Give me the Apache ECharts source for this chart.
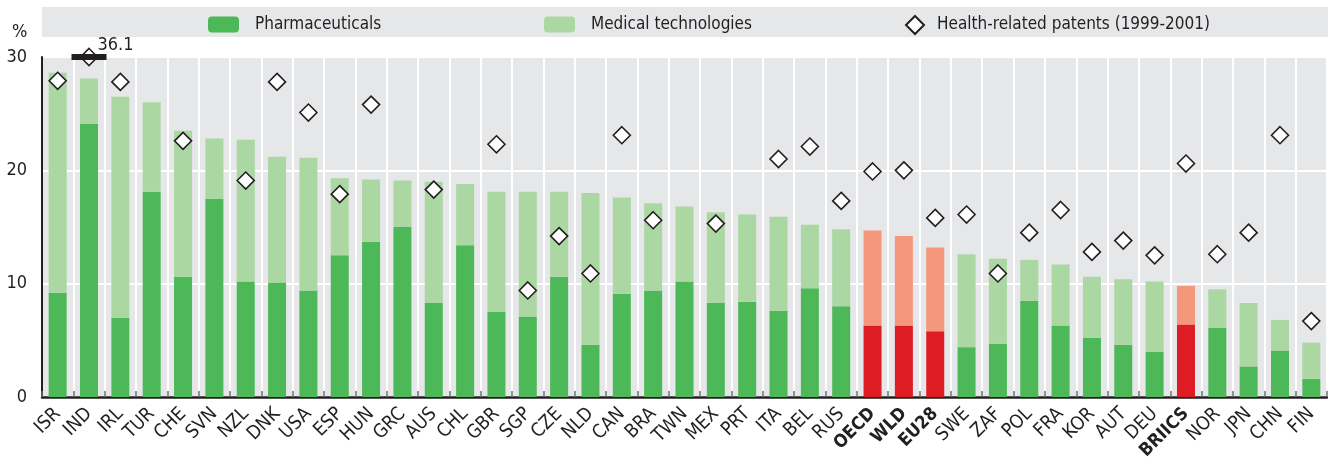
<!DOCTYPE html>
<html>
<head>
<meta charset="utf-8">
<script src="https://cdn.jsdelivr.net/npm/echarts@6/dist/echarts.min.js"></script>
<style>
html,body{margin:0;padding:0;background:#fff;}
#chart{width:1328px;height:457px;}
</style>
</head>
<body>
<div id="chart"></div>
<script>
const categories = ['ISR','IND','IRL','TUR','CHE','SVN','NZL','DNK','USA','ESP','HUN','GRC','AUS','CHL','GBR','SGP','CZE','NLD','CAN','BRA','TWN','MEX','PRT','ITA','BEL','RUS','OECD','WLD','EU28','SWE','ZAF','POL','FRA','KOR','AUT','DEU','BRIICS','NOR','JPN','CHN','FIN'];
const aggregates = ['OECD','WLD','EU28','BRIICS'];
const pharmaceuticals = [9.2,24.1,7.0,18.1,10.6,17.5,10.2,10.1,9.4,12.5,13.7,15.0,8.3,13.4,7.5,7.1,10.6,4.6,9.1,9.4,10.2,8.3,8.4,7.6,9.6,8.0,6.3,6.3,5.8,4.4,4.7,8.5,6.3,5.2,4.6,4.0,6.4,6.1,2.7,4.1,1.6];
const medicalTech = [19.4,4.0,19.5,7.9,12.9,5.3,12.5,11.1,11.7,6.8,5.5,4.1,10.7,5.4,10.6,11.0,7.5,13.4,8.5,7.7,6.6,8.0,7.7,8.3,5.6,6.8,8.4,7.9,7.4,8.2,7.5,3.6,5.4,5.4,5.8,6.2,3.4,3.4,5.6,2.7,3.2];
const patents = [27.9,36.1,27.8,null,22.6,null,19.1,27.8,25.1,17.9,25.8,null,18.3,null,22.3,9.4,14.2,10.9,23.1,15.6,null,15.3,null,21.0,22.1,17.3,19.9,20.0,15.8,16.1,10.9,14.5,16.5,12.8,13.8,12.5,20.6,12.6,14.5,23.1,6.7];
const yTicks = [0, 10, 20, 30];

const yMin = yTicks[0], yMax = yTicks[yTicks.length - 1], yStep = yTicks[1] - yTicks[0];
const C = {
  green: '#4cb857', lightGreen: '#abd7a3', red: '#de1c24', salmon: '#f4977a',
  panel: '#e6e7e9', text: '#231f20', axis: '#231f20'
};
const FONT = '"Liberation Sans Narrow", "DejaVu Sans Condensed", "Roboto Condensed", Arial, sans-serif';
const isAgg = c => aggregates.indexOf(c) >= 0;

const chart = echarts.init(document.getElementById('chart'), null, {renderer: 'canvas'});
const option = {
  animation: false,
  backgroundColor: '#fff',
  textStyle: {fontFamily: FONT, color: C.text},
  graphic: [
    {type: 'rect', left: 42, top: 7, shape: {width: 1286, height: 30}, style: {fill: C.panel}, z: -1},
    {type: 'text', left: 12, top: 23, style: {text: '%', fontSize: 18, fontFamily: FONT, fill: C.text}}
  ],
  legend: [
    {data: ['Pharmaceuticals'], left: 208, top: 16, padding: 0, itemWidth: 31, itemHeight: 16,
     textStyle: {fontSize: 17, fontFamily: FONT, color: C.text, padding: [0, 0, 0, 11]}},
    {data: ['Medical technologies'], left: 544, top: 16, padding: 0, itemWidth: 31, itemHeight: 16,
     textStyle: {fontSize: 17, fontFamily: FONT, color: C.text, padding: [0, 0, 0, 11]}},
    {data: ['Health-related patents (1999-2001)'], left: 905, top: 15, padding: 0, itemWidth: 18, itemHeight: 18,
     textStyle: {fontSize: 17, fontFamily: FONT, color: C.text, padding: [0, 0, 0, 8]}}
  ],
  grid: {left: 42, right: 1, top: 57, bottom: 60, outerBoundsMode: 'none', containLabel: false,
         show: true, backgroundColor: C.panel, borderWidth: 0},
  xAxis: {
    type: 'category', data: categories,
    axisLine: {lineStyle: {color: C.axis, width: 2.5}},
    axisTick: {show: true, inside: true, length: 6, lineStyle: {color: '#6d6e70', width: 1.5}},
    splitLine: {show: true, lineStyle: {color: '#ffffff', width: 2}},
    axisLabel: {
      interval: 0, rotate: 45, margin: 14, fontSize: 19, fontFamily: FONT, color: C.text,
      formatter: v => isAgg(v) ? '{b|' + v + '}' : v,
      rich: {b: {fontWeight: 'bold', fontSize: 18, fontFamily: FONT, color: C.text}}
    }
  },
  yAxis: {
    type: 'value', min: yMin, max: yMax, interval: yStep,
    axisLine: {show: true, lineStyle: {color: C.axis, width: 2}},
    axisTick: {show: false},
    splitLine: {show: true, lineStyle: {color: '#ffffff', width: 2}},
    axisLabel: {fontSize: 18, fontFamily: FONT, color: C.text, margin: 15}
  },
  series: [
    {
      name: 'Pharmaceuticals', type: 'bar', stack: 'total', barWidth: 18,
      itemStyle: {color: C.green},
      data: pharmaceuticals.map((v, i) => ({value: v, itemStyle: {color: isAgg(categories[i]) ? C.red : C.green}}))
    },
    {
      name: 'Medical technologies', type: 'bar', stack: 'total', barWidth: 18,
      itemStyle: {color: C.lightGreen},
      data: medicalTech.map((v, i) => ({value: v, itemStyle: {color: isAgg(categories[i]) ? C.salmon : C.lightGreen}}))
    },
    {
      name: 'Health-related patents (1999-2001)', type: 'scatter', symbol: 'diamond', symbolSize: 17,
      clip: false, z: 3,
      itemStyle: {color: '#ffffff', borderColor: C.text, borderWidth: 1.6, opacity: 1},
      data: patents.map(v => v == null ? '-' : Math.min(v, yMax))
    },
    {
      name: 'break', type: 'scatter', symbol: 'rect', symbolSize: [35, 6], clip: false, z: 4,
      itemStyle: {color: C.text, opacity: 1},
      label: {
        show: true, position: [26, -18], fontSize: 18, fontFamily: FONT, color: C.text,
        formatter: p => String(patents[p.dataIndex])
      },
      data: patents.map(v => (v != null && v > yMax) ? yMax : '-')
    }
  ]
};
chart.setOption(option);
</script>
</body>
</html>
